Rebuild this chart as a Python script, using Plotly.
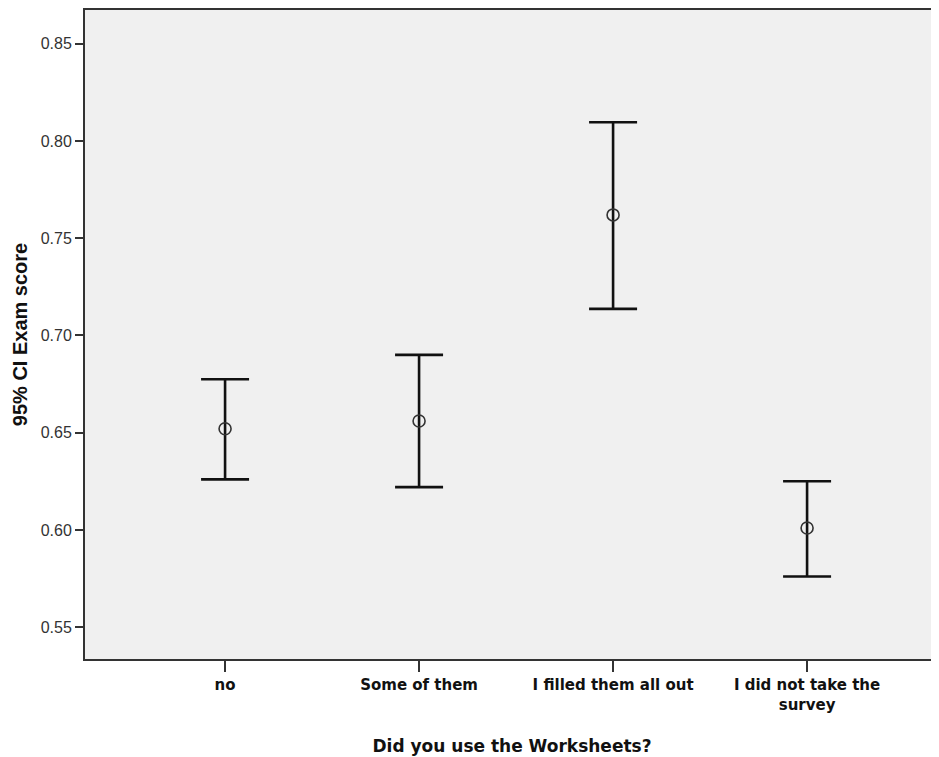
import plotly.graph_objects as go

categories = ["no", "Some of them", "I filled them all out", "I did not take the<br>survey"]
means = [0.652, 0.656, 0.762, 0.601]
upper = [0.6775, 0.690, 0.8097, 0.625]
lower = [0.626, 0.622, 0.7137, 0.576]

x_idx = list(range(len(categories)))
err_plus = [u - m for u, m in zip(upper, means)]
err_minus = [m - l for m, l in zip(means, lower)]

fig = go.Figure()
fig.add_trace(go.Scatter(
    x=x_idx, y=means, mode="markers",
    marker=dict(symbol="circle-open", size=12, color="#333333", line=dict(width=1.6)),
    error_y=dict(type="data", symmetric=False, array=err_plus, arrayminus=err_minus,
                 color="#111111", thickness=2.6, width=24),
    showlegend=False,
))

fig.update_layout(
    width=931, height=749,
    margin=dict(l=77, r=0, t=0, b=98),
    paper_bgcolor="white", plot_bgcolor="#f0f0f0",
    font=dict(family="Liberation Sans, Arial, sans-serif", color="#222222"),
)
fig.update_xaxes(
    tickmode="array", tickvals=x_idx, ticktext=["<b>%s</b>" % c for c in categories],
    range=[-0.722, 3.68], showgrid=False, zeroline=False,
    showline=True, linecolor="#333333", linewidth=2, mirror=True,
    ticks="outside", ticklen=11, tickwidth=2, tickcolor="#333333",
    tickfont=dict(family="DejaVu Sans, Verdana, sans-serif", size=15, color="#111111"),
    title=dict(text="<b>Did you use the Worksheets?</b>",
               font=dict(family="DejaVu Sans, Verdana, sans-serif", size=17, color="#111111"), standoff=28),
)
fig.update_yaxes(
    range=[0.5336, 0.8674], tickvals=[0.55, 0.60, 0.65, 0.70, 0.75, 0.80, 0.85],
    tickformat=".2f", showgrid=False, zeroline=False,
    showline=True, linecolor="#333333", linewidth=2, mirror=False,
    ticks="outside", ticklen=8, tickwidth=2, tickcolor="#333333",
    tickfont=dict(size=16, color="#333333"),
    title=dict(text="<b>95% CI Exam score</b>", font=dict(size=20, color="#111111"), standoff=8),
)

fig.write_html("out.html")
